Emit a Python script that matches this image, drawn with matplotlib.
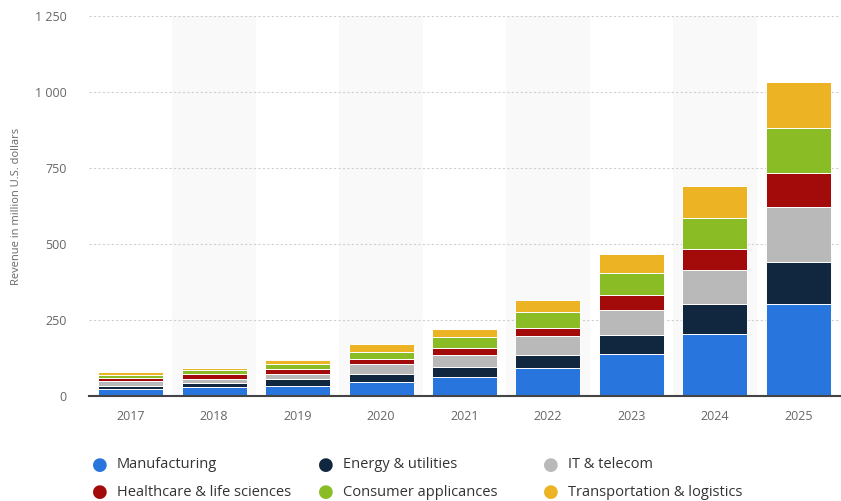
import numpy as np
import matplotlib
matplotlib.use("Agg")
import matplotlib.pyplot as plt
from matplotlib.ticker import FuncFormatter

# Data (million U.S. dollars)
years = ["2017", "2018", "2019", "2020", "2021", "2022", "2023", "2024", "2025"]
manufacturing = [22, 31, 34, 47, 64, 91, 139, 205, 304]
energy = [12, 11, 21, 25, 32, 44, 61, 96, 137]
it_telecom = [16, 13, 18, 33, 40, 61, 84, 112, 181]
healthcare = [8, 18, 15, 17, 23, 28, 47, 72, 110]
consumer = [12, 11, 16, 22, 36, 53, 74, 101, 148]
transport = [8, 7, 15, 28, 27, 39, 63, 104, 153]

series = [
    ("Manufacturing", manufacturing, "#2876dd"),
    ("Energy & utilities", energy, "#11263f"),
    ("IT & telecom", it_telecom, "#b9b9b9"),
    ("Healthcare & life sciences", healthcare, "#a30b0b"),
    ("Consumer applicances", consumer, "#8abc25"),
    ("Transportation & logistics", transport, "#ecb425"),
]

plt.rcParams["font.family"] = ["Open Sans", "DejaVu Sans"]

fig = plt.figure(figsize=(8.41, 5.01), dpi=100)
ax = fig.add_axes([89 / 841, 105 / 501, 751 / 841, 380 / 501])

x = np.arange(len(years))

# alternating background bands
for i in range(1, len(years), 2):
    ax.axvspan(i - 0.5, i + 0.5, color="#f9f9f9", zorder=0, lw=0)

bottom = np.zeros(len(years))
for name, vals, color in series:
    ax.bar(x, vals, width=0.78, bottom=bottom, color=color,
           edgecolor="white", linewidth=0.7, zorder=3)
    bottom += np.array(vals)

ax.set_xlim(-0.5, len(years) - 0.5)
ax.set_ylim(0, 1250)
ax.set_yticks([0, 250, 500, 750, 1000, 1250])
ax.yaxis.set_major_formatter(FuncFormatter(lambda v, p: f"{int(v):,}".replace(",", " ")))
ax.set_xticks(x)
ax.set_xticklabels(years)

ax.grid(axis="y", color="#cfcfcf", linestyle=(0, (2, 2)), linewidth=0.8, zorder=1)
ax.set_axisbelow(True)

for s in ["top", "right", "left"]:
    ax.spines[s].set_visible(False)
ax.spines["bottom"].set_color("#444444")
ax.spines["bottom"].set_linewidth(1.5)
ax.spines["bottom"].set_zorder(5)

ax.tick_params(axis="y", length=0, pad=16, labelsize=9, labelcolor="#666666")
ax.tick_params(axis="x", length=0, pad=10, labelsize=9, labelcolor="#666666")

fig.text(17 / 841, 1 - 206 / 501, "Revenue in million U.S. dollars", fontsize=8,
         color="#666666", rotation=90, ha="center", va="center")

# legend
for i, (name, vals, color) in enumerate(series):
    col = i % 3
    row = i // 3
    mx = (100 + col * 225.5) / 841
    my = 1 - (465 + row * 27) / 501
    fig.text(mx, my, "\u25CF", color=color, fontsize=13, ha="center", va="center",
             family="DejaVu Sans")
    fig.text(mx + 17 / 841, my, name, color="#333333", fontsize=10.5, va="center")

fig.savefig("out.png", dpi=100)
